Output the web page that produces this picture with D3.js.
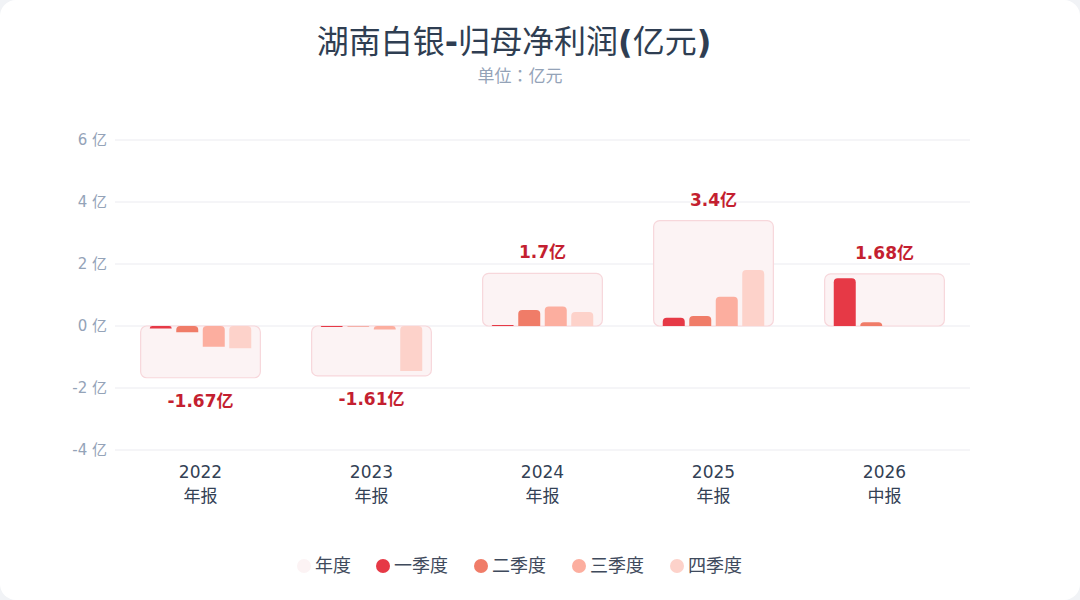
<!DOCTYPE html>
<html>
<head>
<meta charset="utf-8">
<script src="https://cdn.jsdelivr.net/npm/d3@7/dist/d3.min.js"></script>
<style>
  html, body { margin: 0; padding: 0; background: #f1f3f6; }
  svg { display: block; }
</style>
</head>
<body>
<svg id="chart"></svg>
<script>
// ===== DATA =====
const periods = ["2022", "2023", "2024", "2025", "2026"];
const periodTypes = ["年报", "年报", "年报", "年报", "中报"];
const annual = [-1.67, -1.61, 1.7, 3.4, 1.68];
const annualLabels = ["-1.67亿", "-1.61亿", "1.7亿", "3.4亿", "1.68亿"];
const q1 = [-0.08, -0.03, 0.03, 0.27, 1.54];
const q2 = [-0.2, -0.02, 0.52, 0.32, 0.12];
const q3 = [-0.67, -0.11, 0.63, 0.94, null];
const q4 = [-0.72, -1.45, 0.45, 1.81, null];
const quarterNames = ["一季度", "二季度", "三季度", "四季度"];
const yTicks = [-4, -2, 0, 2, 4, 6];

const W = 1080, H = 600;
const colors = ["#e63946", "#f07c68", "#fcae9f", "#fdd2ca"];
const boxFill = "#fcf3f4", boxStroke = "#f7d7db";
const font = "'DejaVu Sans', 'Noto Sans CJK JP', sans-serif";
const cjk = "'Noto Sans CJK JP', sans-serif";

const svg = d3.select("#chart").attr("width", W).attr("height", H);

// card
svg.append("rect")
    .attr("x", 0).attr("y", 0).attr("width", W).attr("height", H)
    .attr("rx", 16).attr("fill", "#ffffff");

// title (latin parts bold, CJK regular)
const title = svg.append("text")
    .attr("x", 514).attr("y", 53)
    .attr("text-anchor", "middle")
    .attr("font-family", font)
    .attr("font-size", 32)
    .attr("fill", "#2f3e52");
[["湖南白银", 400, cjk], ["-", 700, font], ["归母净利润", 400, cjk], ["(", 700, font], ["亿元", 400, cjk], [")", 700, font]]
    .forEach(([t, w, f]) => title.append("tspan").attr("font-weight", w).attr("font-family", f).text(t));

svg.append("text")
    .attr("x", 520).attr("y", 82)
    .attr("text-anchor", "middle")
    .attr("font-family", cjk)
    .attr("font-size", 17)
    .attr("fill", "#94a3b8")
    .text("单位：亿元");

// ===== SCALES =====
const x = d3.scaleBand().domain(periods).range([115, 970]).padding(0);
const y = d3.scaleLinear().domain([-4, 6]).range([450, 140]);
const xq = d3.scaleBand().domain(quarterNames).range([-53, 53])
    .paddingInner(0.17).paddingOuter(0.085);
const boxW = x.bandwidth() * 0.7;

// grid + y labels
const yAxis = svg.append("g");
yAxis.selectAll("line").data(yTicks).join("line")
    .attr("x1", 115).attr("x2", 970)
    .attr("y1", d => y(d)).attr("y2", d => y(d))
    .attr("stroke", "#ebebf0").attr("stroke-width", 1);
yAxis.selectAll("text").data(yTicks).join("text")
    .attr("x", 107).attr("y", d => y(d))
    .attr("dy", "0.35em")
    .attr("text-anchor", "end")
    .attr("font-family", font)
    .attr("font-size", 15)
    .attr("fill", "#94a3b8")
    .text(d => d + " 亿");

// x labels: two-line label in one text element
periods.forEach((p, i) => {
    const cx = x(p) + x.bandwidth() / 2;
    const t = svg.append("text").attr("x", cx).attr("y", 478)
        .attr("text-anchor", "middle")
        .attr("font-size", 17).attr("fill", "#334155");
    t.append("tspan").attr("x", cx).attr("font-family", font).text(p);
    t.append("tspan").attr("x", cx).attr("dy", 24).attr("font-family", cjk).text(periodTypes[i]);
});

// ===== ANNUAL BOXES =====
const rows = periods.map((p, i) => ({
    p, total: annual[i], label: annualLabels[i], qs: [q1[i], q2[i], q3[i], q4[i]]
}));

svg.append("g").selectAll("rect").data(rows).join("rect")
    .attr("x", d => x(d.p) + (x.bandwidth() - boxW) / 2)
    .attr("y", d => Math.min(y(d.total), y(0)))
    .attr("width", boxW)
    .attr("height", d => Math.abs(y(d.total) - y(0)))
    .attr("rx", 6)
    .attr("fill", boxFill)
    .attr("stroke", boxStroke)
    .attr("stroke-width", 1.2);

// ===== QUARTER BARS =====
// rounded top corners only
function barPath(x0, w, yTop, yBot, r) {
    const h = yBot - yTop;
    r = Math.min(r, h, w / 2);
    return `M${x0},${yBot}V${yTop + r}Q${x0},${yTop} ${x0 + r},${yTop}` +
        `H${x0 + w - r}Q${x0 + w},${yTop} ${x0 + w},${yTop + r}V${yBot}Z`;
}

const bars = svg.append("g");
rows.forEach(d => {
    const cx = x(d.p) + x.bandwidth() / 2;
    d.qs.forEach((v, k) => {
        if (v == null) return;
        const yTop = Math.min(y(v), y(0));
        const yBot = Math.max(y(v), y(0));
        bars.append("path")
            .attr("d", barPath(cx + xq(quarterNames[k]), xq.bandwidth(), yTop, yBot, 4))
            .attr("fill", colors[k]);
    });
});

// ===== ANNUAL LABELS =====
svg.append("g").selectAll("text").data(rows).join("text")
    .attr("x", d => x(d.p) + x.bandwidth() / 2)
    .attr("y", d => d.total >= 0 ? y(d.total) - 15 : y(d.total) + 29)
    .attr("text-anchor", "middle")
    .attr("font-family", font)
    .attr("font-size", 17)
    .attr("font-weight", 700)
    .attr("fill", "#c41f30")
    .text(d => d.label);

// ===== LEGEND =====
const legendItems = [{ name: "年度", color: boxFill }]
    .concat(quarterNames.map((n, k) => ({ name: n, color: colors[k] })));
const legendX = [304, 383, 481, 579, 677];
const lg = svg.append("g");
legendItems.forEach((it, i) => {
    lg.append("circle").attr("cx", legendX[i]).attr("cy", 566).attr("r", 7)
        .attr("fill", it.color);
    lg.append("text").attr("x", legendX[i] + 11).attr("y", 566)
        .attr("dy", "0.35em").attr("font-family", cjk)
        .attr("font-size", 18).attr("fill", "#3f4a5c").text(it.name);
});
</script>
</body>
</html>
